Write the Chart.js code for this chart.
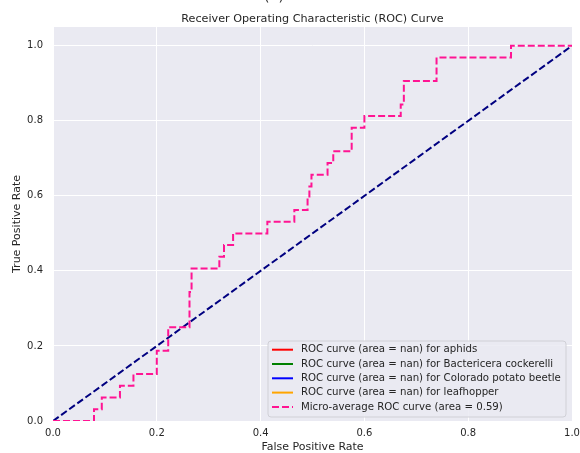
<!DOCTYPE html>
<html>
<head>
<meta charset="utf-8">
<script src="https://cdn.jsdelivr.net/npm/chart.js@4/dist/chart.umd.min.js"></script>
<style>
html,body{margin:0;padding:0;background:#fff;}
#wrap{width:580px;height:453px;position:relative;}
</style>
</head>
<body>
<div id="wrap"><canvas id="c" width="580" height="453"></canvas></div>
<script>
// ---- data ----
const classNames = ["aphids", "Bactericera cockerelli", "Colorado potato beetle", "leafhopper"];
const classColors = ["red", "green", "blue", "orange"];
const microAUC = 0.59;
const microFpr = [0, 0.079, 0.079, 0.094, 0.094, 0.129, 0.129, 0.155, 0.155, 0.2, 0.2, 0.222, 0.222, 0.263, 0.263, 0.267, 0.267, 0.3205, 0.3205, 0.3295, 0.3295, 0.347, 0.347, 0.413, 0.413, 0.465, 0.465, 0.4905, 0.4905, 0.494, 0.494, 0.498, 0.498, 0.529, 0.529, 0.54, 0.54, 0.5755, 0.5755, 0.6, 0.6, 0.67, 0.67, 0.676, 0.676, 0.739, 0.739, 0.8825, 0.8825, 1.0];
const microTpr = [0, 0, 0.03125, 0.03125, 0.0625, 0.0625, 0.09375, 0.09375, 0.125, 0.125, 0.1875, 0.1875, 0.25, 0.25, 0.34375, 0.34375, 0.40625, 0.40625, 0.4375, 0.4375, 0.46875, 0.46875, 0.5, 0.5, 0.53125, 0.53125, 0.5625, 0.5625, 0.59375, 0.59375, 0.625, 0.625, 0.65625, 0.65625, 0.6875, 0.6875, 0.71875, 0.71875, 0.78125, 0.78125, 0.8125, 0.8125, 0.84375, 0.84375, 0.90625, 0.90625, 0.96875, 0.96875, 1.0, 1.0];
const diagX = [0, 1];
const diagY = [0, 1];
const xTicks = [0, 0.2, 0.4, 0.6, 0.8, 1.0];
const yTicks = [0, 0.2, 0.4, 0.6, 0.8, 1.0];
const titleText = "Receiver Operating Characteristic (ROC) Curve";
const xLabel = "False Positive Rate";
const yLabel = "True Positive Rate";

const FONT = "'DejaVu Sans', sans-serif";
const TXT = "#262626";

const datasets = [];
classNames.forEach((n, i) => {
  datasets.push({label: "ROC curve (area = nan) for " + n, data: [], borderColor: classColors[i], borderWidth: 2, pointRadius: 0, showLine: true, _legend: "solid"});
});
datasets.push({
  label: "Micro-average ROC curve (area = " + microAUC.toFixed(2) + ")",
  data: microFpr.map((x, i) => ({x: x, y: microTpr[i]})),
  borderColor: "#FF1493", borderWidth: 2, borderDash: [7, 3], pointRadius: 0, showLine: true, clip: 0, _legend: "dash"
});
datasets.push({
  label: "",
  data: diagX.map((x, i) => ({x: x, y: diagY[i]})),
  borderColor: "#000080", borderWidth: 2, borderDash: [7, 3], pointRadius: 0, showLine: true, _legend: null
});
datasets.forEach((d, i) => d.order = (d._legend === "dash") ? 0 : 1);

const bgPlugin = {
  id: "bg",
  beforeDraw(chart) {
    const {ctx, chartArea: a} = chart;
    ctx.save();
    ctx.fillStyle = "#EAEAF2";
    ctx.fillRect(a.left, a.top, a.right - a.left, a.bottom - a.top);
    ctx.restore();
  },
  afterDraw(chart) {
    const {ctx, chartArea: a} = chart;
    ctx.save();
    // cut-off text at very top
    ctx.fillStyle = TXT;
    ctx.font = "14px " + FONT;
    ctx.textAlign = "center";
    ctx.textBaseline = "alphabetic";
    ctx.fillText("(  )", 274, 1);
    // title
    ctx.font = "11.2px " + FONT;
    ctx.textBaseline = "middle";
    ctx.fillText(titleText, (a.left + a.right) / 2, 19);
    // axis labels
    ctx.font = "11px " + FONT;
    ctx.fillText(xLabel, (a.left + a.right) / 2, 447);
    ctx.save();
    ctx.translate(17, (a.top + a.bottom) / 2);
    ctx.rotate(-Math.PI / 2);
    ctx.fillText(yLabel, 0, 0);
    ctx.restore();
    // legend
    const items = chart.data.datasets.filter(d => d._legend);
    const bx = 268, by = 341, bw = 298, bh = 76, r = 3;
    ctx.beginPath();
    ctx.moveTo(bx + r, by);
    ctx.arcTo(bx + bw, by, bx + bw, by + bh, r);
    ctx.arcTo(bx + bw, by + bh, bx, by + bh, r);
    ctx.arcTo(bx, by + bh, bx, by, r);
    ctx.arcTo(bx, by, bx + bw, by, r);
    ctx.closePath();
    ctx.fillStyle = "rgba(234,234,242,0.85)";
    ctx.fill();
    ctx.strokeStyle = "#d0d0d6";
    ctx.lineWidth = 1;
    ctx.stroke();
    ctx.font = "10.2px " + FONT;
    ctx.textAlign = "left";
    items.forEach((d, i) => {
      const y = 349.7 + i * 14.3;
      ctx.beginPath();
      ctx.strokeStyle = d.borderColor;
      ctx.lineWidth = 2;
      ctx.setLineDash(d._legend === "dash" ? [7, 3] : []);
      ctx.moveTo(272, y);
      ctx.lineTo(293, y);
      ctx.stroke();
      ctx.setLineDash([]);
      ctx.fillStyle = TXT;
      ctx.fillText(d.label, 301, y);
    });
    ctx.restore();
  }
};

new Chart(document.getElementById("c"), {
  type: "scatter",
  data: {datasets: datasets},
  plugins: [bgPlugin],
  options: {
    responsive: false,
    animation: false,
    devicePixelRatio: 1,
    layout: {autoPadding: false, padding: {top: 27, right: 8, left: 0, bottom: 0}},
    plugins: {legend: {display: false}, title: {display: false}, tooltip: {enabled: false}},
    elements: {line: {tension: 0}},
    scales: {
      x: {
        type: "linear", min: 0, max: 1,
        afterFit: s => { s.height = 32; s.paddingLeft = 0; s.paddingRight = 0; },
        afterBuildTicks: s => { s.ticks = xTicks.map(v => ({value: v})); },
        grid: {color: "#ffffff", lineWidth: 1, drawTicks: false},
        border: {display: false},
        ticks: {color: TXT, font: {family: FONT, size: 10}, padding: 6, maxRotation: 0, callback: v => Number(v).toFixed(1)}
      },
      y: {
        type: "linear", min: 0, max: 1.05,
        afterFit: s => { s.width = 53; s.paddingTop = 0; s.paddingBottom = 0; },
        afterBuildTicks: s => { s.ticks = yTicks.map(v => ({value: v})); },
        grid: {color: "#ffffff", lineWidth: 1, drawTicks: false},
        border: {display: false},
        ticks: {color: TXT, font: {family: FONT, size: 10}, padding: 10, callback: v => Number(v).toFixed(1)}
      }
    }
  }
});
</script>
</body>
</html>
